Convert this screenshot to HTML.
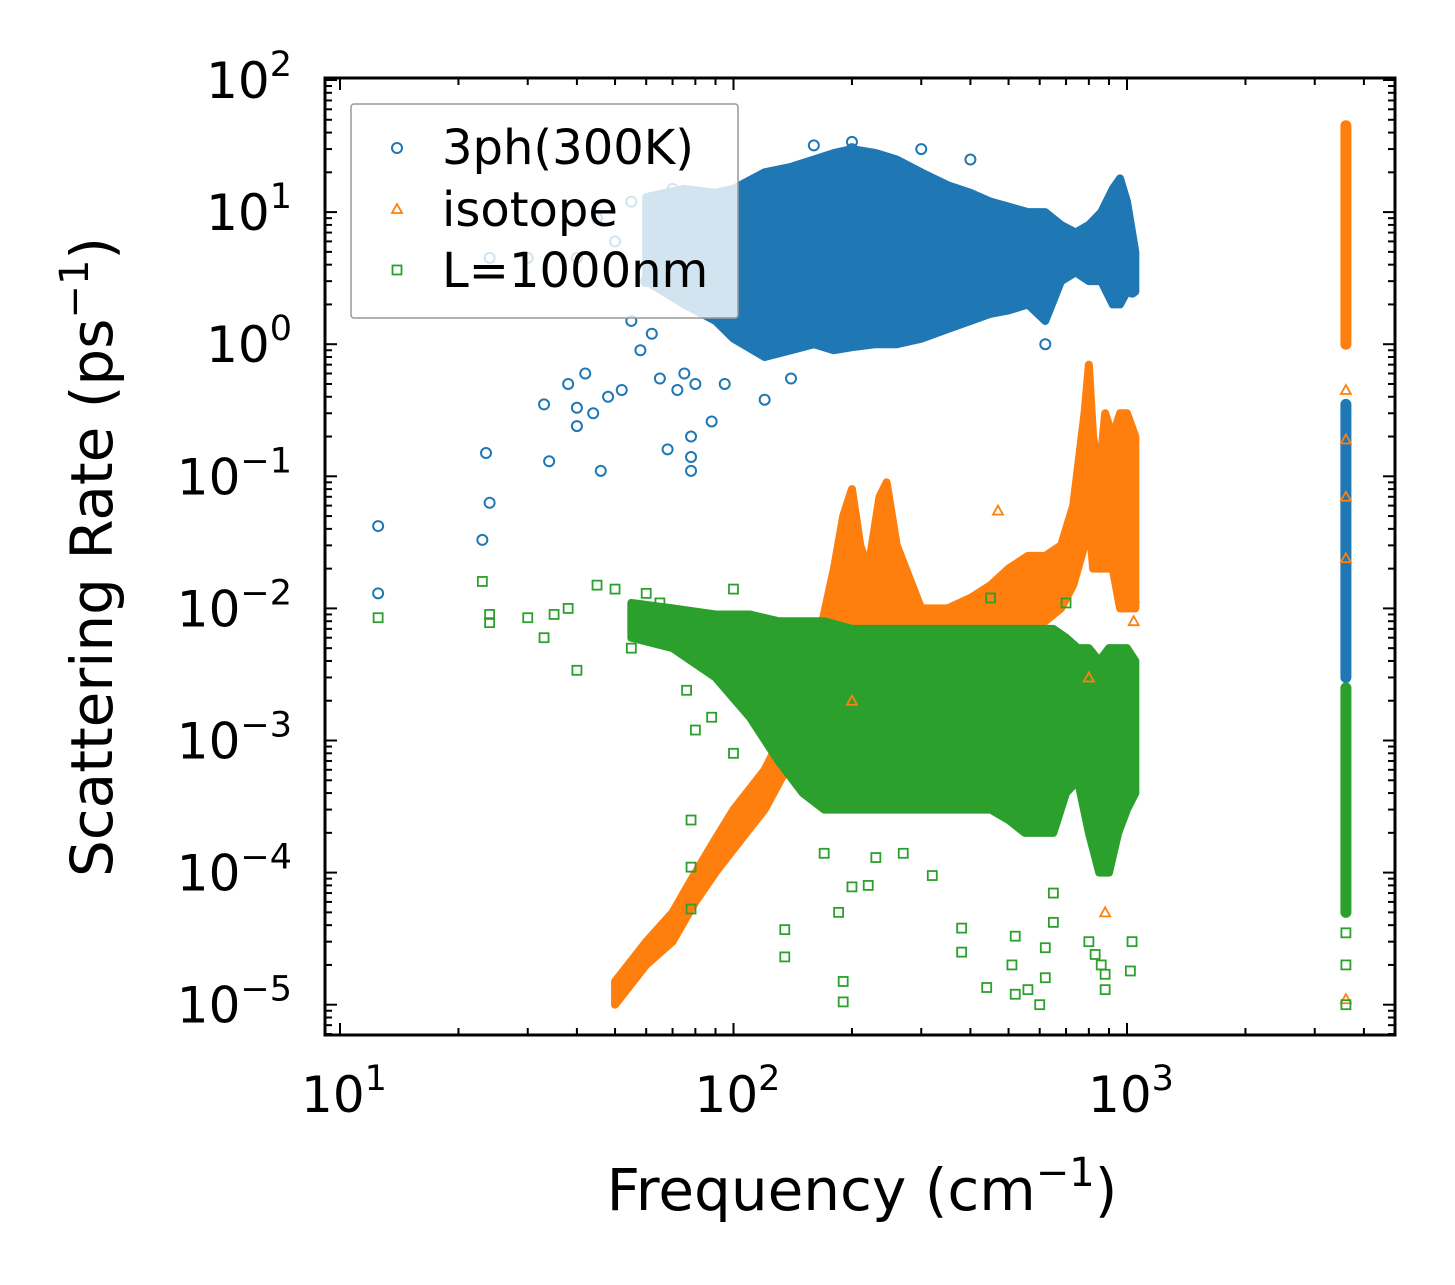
<!DOCTYPE html>
<html><head><meta charset="utf-8"><style>
body{margin:0;background:#fff;}
svg{display:block;font-family:"DejaVu Sans","Liberation Sans",sans-serif;}
</style></head><body>
<svg id="chart" width="1455" height="1285">
<g id="bands"></g><g id="marks"></g><g id="axes"></g>
</svg>
<script>
// ---- data ----
const blueBandX  = [60, 75, 90, 100, 120, 140, 160, 180, 200, 230, 260, 300, 350, 400, 450, 500, 560, 620, 680, 740, 800, 860, 920, 960, 1000, 1050];
const blueBandLo = [3, 2, 1.5, 1.1, 0.8, 0.9, 1.0, 0.9, 0.95, 1.0, 1.0, 1.1, 1.3, 1.5, 1.7, 1.8, 2.0, 1.5, 3.0, 3.5, 3.0, 3.0, 2.0, 2.0, 2.5, 2.5];
const blueBandHi = [13, 15, 14, 15, 20, 22, 25, 28, 30, 28, 25, 20, 16, 14, 12, 11, 10, 10, 8, 7, 8, 10, 15, 18, 12, 5];
const blueLineX = 3600, blueLineLo = 0.003, blueLineHi = 0.35;
const orangeBandX  = [50, 60, 70, 80, 90, 100, 120, 140, 160, 180, 190, 200, 210, 220, 235, 245, 260, 300, 350, 400, 450, 500, 560, 620, 680, 730, 780, 800, 820, 850, 880, 920, 960, 1000, 1050];
const orangeBandLo = [1e-5, 2e-5, 3e-5, 6e-5, 1e-4, 1.5e-4, 3e-4, 7e-4, 2e-3, 4e-3, 5e-3, 6e-3, 5e-3, 5e-3, 6e-3, 5e-3, 3e-3, 3e-3, 3e-3, 3e-3, 4e-3, 5e-3, 6e-3, 8e-3, 1e-2, 1.5e-2, 3e-2, 5e-2, 2e-2, 2e-2, 2e-2, 2e-2, 1e-2, 1e-2, 1e-2];
const orangeBandHi = [1.5e-5, 3e-5, 5e-5, 1e-4, 1.8e-4, 3e-4, 6e-4, 1.5e-3, 4e-3, 2e-2, 5e-2, 8e-2, 3e-2, 2e-2, 7e-2, 9e-2, 3e-2, 1e-2, 1e-2, 1.2e-2, 1.5e-2, 2e-2, 2.5e-2, 2.5e-2, 3e-2, 6e-2, 0.3, 0.7, 0.2, 0.1, 0.3, 0.2, 0.3, 0.3, 0.2];
const orangeLineX = 3600, orangeLineLo = 1.0, orangeLineHi = 45;
const greenBandX  = [55, 70, 90, 110, 130, 150, 170, 200, 250, 300, 350, 400, 450, 500, 550, 600, 650, 700, 750, 800, 850, 900, 950, 1000, 1050];
const greenBandLo = [6e-3, 5e-3, 3e-3, 1.5e-3, 7e-4, 4e-4, 3e-4, 3e-4, 3e-4, 3e-4, 3e-4, 3e-4, 3e-4, 2.5e-4, 2e-4, 2e-4, 2e-4, 4e-4, 5e-4, 2e-4, 1e-4, 1e-4, 2e-4, 3e-4, 4e-4];
const greenBandHi = [1.1e-2, 1e-2, 9e-3, 9e-3, 8e-3, 8e-3, 8e-3, 7e-3, 7e-3, 7e-3, 7e-3, 7e-3, 7e-3, 7e-3, 7e-3, 7e-3, 7e-3, 6e-3, 5e-3, 5e-3, 4e-3, 5e-3, 5e-3, 5e-3, 4e-3];
const greenLineX = 3600, greenLineLo = 5e-5, greenLineHi = 2.5e-3;
const blueX = [12.5,12.5,23,23.5,24,33,34,38,40,40,42,44,46,48,52,55,58,62,65,68,72,75,78,78,78,80,88,95,120,140,620,1030,40,30,24,45,50,55,60,65,70,80,160,200,200,300,400];
const blueY = [0.042,0.013,0.033,0.15,0.063,0.35,0.13,0.5,0.24,0.33,0.6,0.3,0.11,0.4,0.45,1.5,0.9,1.2,0.55,0.16,0.45,0.6,0.2,0.14,0.11,0.5,0.26,0.5,0.38,0.55,1,2.5,4.5,4.5,4.5,9,6,12,3,13,15,10,32,34,30,30,25];
const orangeX = [470,980,1040,1040,880,3600,3600,3600,3600,3600,800,200];
const orangeY = [0.055,0.02,0.012,0.008,5e-5,0.45,0.19,0.07,0.024,1.1e-5,3e-3,2e-3];
const greenX = [12.5,23,24,24,30,33,35,38,40,45,50,55,60,65,76,78,78,78,80,88,100,135,135,170,185,190,190,200,220,230,270,320,380,380,440,510,520,520,560,600,620,620,650,650,800,830,860,880,880,1020,1030,3600,3600,3600,200,100,450,700];
const greenY = [0.0085,0.016,0.009,0.0078,0.0085,0.006,0.009,0.01,0.0034,0.015,0.014,0.005,0.013,0.011,0.0024,0.00025,0.00011,5.3e-5,0.0012,0.0015,0.0008,3.7e-5,2.3e-5,0.00014,5e-5,1.5e-5,1.05e-5,7.8e-5,8e-5,0.00013,0.00014,9.5e-5,3.8e-5,2.5e-5,1.35e-5,2e-5,1.2e-5,3.3e-5,1.3e-5,1e-5,1.6e-5,2.7e-5,4.2e-5,7e-5,3e-5,2.4e-5,2e-5,1.3e-5,1.7e-5,1.8e-5,3e-5,1e-5,2e-5,3.5e-5,0.00045,0.014,0.012,0.011];
const xTickExp = [1, 2, 3];
const yTickExp = [2, 1, 0, -1, -2, -3, -4, -5];
// ---- scales ----
const X0 = 340, XD = 393.5, Y0 = 80, YD = 132.1;
const sx = v => X0 + (Math.log10(v) - 1) * XD;
const sy = v => Y0 + (2 - Math.log10(v)) * YD;
const L = 325, R = 1395, T = 78, B = 1035;
const NS = 'http://www.w3.org/2000/svg';
function mk(tag, attrs, parent) { const e = document.createElementNS(NS, tag); for (const k in attrs) e.setAttribute(k, attrs[k]); parent.appendChild(e); return e; }
const bands = document.getElementById('bands'), marks = document.getElementById('marks'), axes = document.getElementById('axes');
const C = { b: '#1f77b4', o: '#ff7f0e', g: '#2ca02c' };
function band(xs, lo, hi, col, name) {
  let pts = xs.map((x, i) => sx(x) + ',' + sy(hi[i]));
  for (let i = xs.length - 1; i >= 0; i--) pts.push(sx(xs[i]) + ',' + sy(lo[i]));
  const p = mk('polygon', { points: pts.join(' '), fill: col, stroke: col, 'stroke-width': 8, 'stroke-linejoin': 'round' }, bands);
  
  
}
function vline(x, lo, hi, col, name) {
  const l = mk('line', { x1: sx(x), x2: sx(x), y1: sy(hi), y2: sy(lo), stroke: col, 'stroke-width': 11, 'stroke-linecap': 'round' }, bands);
  
  
}
band(blueBandX, blueBandLo, blueBandHi, C.b, 'series-3ph-cloud');
vline(blueLineX, blueLineLo, blueLineHi, C.b, 'series-3ph-high-freq');
band(orangeBandX, orangeBandLo, orangeBandHi, C.o, 'series-isotope-cloud');
vline(orangeLineX, orangeLineLo, orangeLineHi, C.o, 'series-isotope-high-freq');
band(greenBandX, greenBandLo, greenBandHi, C.g, 'series-boundary-cloud');
vline(greenLineX, greenLineLo, greenLineHi, C.g, 'series-boundary-high-freq');
blueX.forEach((x, i) => {
  const c = mk('circle', { cx: sx(x), cy: sy(blueY[i]), r: 5, fill: 'none', stroke: C.b, 'stroke-width': 2 }, marks);
  
  
});
orangeX.forEach((x, i) => {
  const X = sx(x), Y = sy(orangeY[i]);
  const t = mk('polygon', { points: `${X},${Y-5} ${X-5},${Y+4} ${X+5},${Y+4}`, fill: 'none', stroke: C.o, 'stroke-width': 1.8 }, marks);
  
  
});
greenX.forEach((x, i) => {
  const r = mk('rect', { x: sx(x) - 4.5, y: sy(greenY[i]) - 4.5, width: 9, height: 9, fill: 'none', stroke: C.g, 'stroke-width': 1.8 }, marks);
  
  
});
// ---- axes ----
mk('rect', { x: L, y: T, width: R - L, height: B - T, fill: 'none', stroke: '#000', 'stroke-width': 3 }, axes);
for (let e = 1; e <= 3; e++) for (let m = 1; m <= 9; m++) {
  const v = m * Math.pow(10, e), X = sx(v);
  if (X < L || X > R) continue;
  const len = m === 1 ? 12 : 7;
  mk('line', { x1: X, x2: X, y1: B, y2: B - len, stroke: '#000', 'stroke-width': 2 }, axes);
  mk('line', { x1: X, x2: X, y1: T, y2: T + len, stroke: '#000', 'stroke-width': 2 }, axes);
}
for (let e = -6; e <= 2; e++) for (let m = 1; m <= 9; m++) {
  const v = m * Math.pow(10, e), Y = sy(v);
  if (Y < T || Y > B) continue;
  const len = m === 1 ? 12 : 7;
  mk('line', { x1: L, x2: L + len, y1: Y, y2: Y, stroke: '#000', 'stroke-width': 2 }, axes);
  mk('line', { x1: R, x2: R - len, y1: Y, y2: Y, stroke: '#000', 'stroke-width': 2 }, axes);
}
xTickExp.forEach(e => {
  const t = mk('text', { x: sx(Math.pow(10, e)) + 4, y: 1112, 'font-size': 50, 'text-anchor': 'middle' }, axes);
  t.innerHTML = '10<tspan dy="-22" font-size="35">' + e + '</tspan>';
  
  
});
yTickExp.forEach(e => {
  const t = mk('text', { x: 292, y: sy(Math.pow(10, e)) + 18, 'font-size': 50, 'text-anchor': 'end' }, axes);
  const s = e < 0 ? '\u2212' + (-e) : '' + e;
  t.innerHTML = '10<tspan dy="-22" font-size="35">' + s + '</tspan>';
  
  
});
</script>
<svg style="position:absolute;left:0;top:0" width="1455" height="1285">
<text x="862" y="1210" font-size="58" text-anchor="middle" font-family="DejaVu Sans, Liberation Sans, sans-serif">Frequency (cm<tspan dy="-24" font-size="40">−1</tspan><tspan dy="24">)</tspan></text>
<text transform="translate(112,557) rotate(-90)" font-size="58" text-anchor="middle" font-family="DejaVu Sans, Liberation Sans, sans-serif">Scattering Rate (ps<tspan dy="-24" font-size="40">−1</tspan><tspan dy="24">)</tspan></text>
<g font-family="DejaVu Sans, Liberation Sans, sans-serif" font-size="48">
<rect x="351" y="104" width="387" height="214" rx="3" fill="rgba(255,255,255,0.8)" stroke="#999" stroke-width="1.5"/>
<circle cx="397" cy="148" r="5" fill="none" stroke="#1f77b4" stroke-width="2"/>
<text x="442" y="164">3ph(300K)</text>
<polygon points="397,204 392,213 402,213" fill="none" stroke="#ff7f0e" stroke-width="1.8"/>
<text x="442" y="226">isotope</text>
<rect x="392.5" y="265.5" width="9" height="9" fill="none" stroke="#2ca02c" stroke-width="1.8"/>
<text x="442" y="287">L=1000nm</text>
</g>
</svg>
</body></html>
